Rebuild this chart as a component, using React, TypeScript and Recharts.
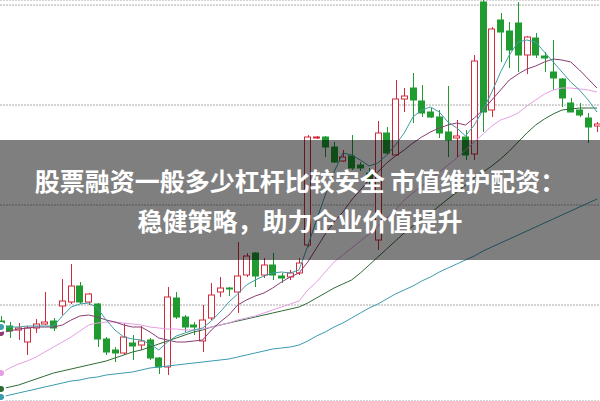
import React from 'react';
import { ComposedChart, Bar, Line, XAxis, YAxis, CartesianGrid } from 'recharts';

const opens = [12.84, 12.79, 12.75, 12.63, 12.77, 12.81, 12.84, 12.99, 13.03, 13.19, 13.03, 13.01, 12.66, 12.55, 12.52, 12.62, 12.60, 12.65, 12.47, 12.38, 13.07, 12.88, 12.80, 12.64, 12.87, 13.13, 13.17, 13.13, 13.30, 13.52, 13.30, 13.40, 13.29, 13.28, 13.32, 13.60, 14.67, 14.68, 14.58, 14.44, 14.49, 14.40, 14.32, 13.65, 14.72, 14.50, 15.06, 15.17, 15.04, 14.93, 14.88, 14.73, 14.67, 14.68, 14.51, 16.03, 14.95, 15.85, 15.74, 15.82, 15.50, 15.67, 15.49, 15.33, 15.26, 15.02, 14.95, 14.87, 14.79];
const closes = [12.79, 12.74, 12.77, 12.77, 12.81, 12.83, 12.77, 13.04, 13.19, 13.03, 13.11, 12.66, 12.53, 12.52, 12.68, 12.59, 12.64, 12.47, 12.38, 13.08, 12.88, 12.78, 12.78, 12.85, 13.10, 13.17, 13.16, 13.29, 13.49, 13.29, 13.40, 13.30, 13.27, 13.32, 13.42, 14.68, 14.68, 14.58, 14.43, 14.48, 14.37, 14.37, 14.24, 14.72, 14.52, 15.06, 15.09, 15.05, 14.92, 14.88, 14.72, 14.65, 14.69, 14.50, 15.44, 14.93, 15.76, 15.73, 15.55, 15.50, 15.68, 15.50, 15.47, 15.27, 15.07, 14.93, 14.90, 14.78, 14.81];
const highs = [12.89, 12.83, 12.82, 12.79, 12.86, 13.13, 12.87, 13.26, 13.41, 13.23, 13.12, 13.02, 12.68, 12.58, 12.82, 12.70, 12.79, 12.67, 12.48, 13.18, 13.13, 12.90, 12.83, 13.00, 13.22, 13.28, 13.18, 13.63, 13.52, 13.53, 13.47, 13.52, 13.32, 13.35, 13.47, 14.70, 14.69, 14.69, 14.63, 14.55, 14.70, 14.43, 14.37, 14.84, 14.78, 15.25, 15.17, 15.32, 15.20, 14.97, 14.95, 15.19, 14.85, 14.75, 15.50, 16.05, 15.78, 15.92, 15.83, 16.03, 15.69, 15.72, 15.53, 15.65, 15.27, 15.07, 15.02, 14.92, 14.83];
const lows = [12.74, 12.67, 12.65, 12.50, 12.72, 12.80, 12.74, 12.90, 13.01, 13.01, 13.00, 12.58, 12.50, 12.43, 12.50, 12.45, 12.55, 12.45, 12.31, 12.30, 12.86, 12.73, 12.70, 12.53, 12.85, 13.08, 13.09, 12.92, 13.28, 13.18, 13.27, 13.25, 13.22, 13.25, 13.30, 13.58, 14.66, 14.48, 14.42, 14.43, 14.35, 14.34, 14.20, 13.55, 14.50, 14.49, 14.93, 14.82, 14.88, 14.87, 14.67, 14.48, 14.48, 14.45, 14.45, 14.73, 14.88, 15.43, 15.37, 15.33, 15.31, 15.47, 15.33, 15.15, 14.98, 14.93, 14.88, 14.62, 14.73];

const ma5 = [12.78, 12.78, 12.78, 12.79, 12.79, 12.79, 12.79, 12.89, 12.98, 13.01, 13.02, 12.97, 12.85, 12.75, 12.68, 12.66, 12.65, 12.61, 12.55, 12.63, 12.69, 12.72, 12.75, 12.77, 12.84, 12.93, 13.03, 13.11, 13.20, 13.25, 13.29, 13.32, 13.33, 13.32, 13.35, 13.59, 13.85, 14.10, 14.33, 14.52, 14.50, 14.45, 14.39, 14.42, 14.50, 14.60, 14.72, 14.88, 14.95, 14.98, 14.93, 14.83, 14.77, 14.69, 14.80, 14.95, 15.13, 15.33, 15.50, 15.63, 15.65, 15.63, 15.53, 15.43, 15.33, 15.23, 15.15, 15.05, 14.93];
const ma10 = [12.72, 12.74, 12.76, 12.77, 12.78, 12.78, 12.78, 12.80, 12.85, 12.89, 12.90, 12.88, 12.85, 12.83, 12.80, 12.78, 12.78, 12.73, 12.67, 12.65, 12.63, 12.63, 12.64, 12.65, 12.75, 12.83, 12.90, 13.00, 13.05, 13.09, 13.12, 13.17, 13.23, 13.28, 13.32, 13.43, 13.57, 13.71, 13.83, 13.93, 14.05, 14.15, 14.25, 14.33, 14.42, 14.49, 14.55, 14.62, 14.68, 14.73, 14.77, 14.80, 14.82, 14.80, 14.87, 14.95, 15.05, 15.15, 15.25, 15.31, 15.36, 15.39, 15.43, 15.46, 15.45, 15.43, 15.35, 15.26, 15.17];
const ma20 = [12.32, 12.37, 12.41, 12.44, 12.48, 12.53, 12.58, 12.63, 12.68, 12.74, 12.80, 12.82, 12.83, 12.83, 12.82, 12.81, 12.80, 12.78, 12.77, 12.76, 12.76, 12.75, 12.75, 12.76, 12.78, 12.80, 12.82, 12.85, 12.87, 12.89, 12.92, 12.95, 12.98, 13.01, 13.04, 13.15, 13.23, 13.33, 13.43, 13.50, 13.57, 13.64, 13.71, 13.79, 13.87, 13.95, 14.05, 14.12, 14.19, 14.25, 14.33, 14.40, 14.47, 14.55, 14.63, 14.71, 14.79, 14.85, 14.88, 14.92, 14.99, 15.05, 15.11, 15.15, 15.17, 15.17, 15.16, 15.15, 15.13];
const ma30 = [12.16, 12.18, 12.20, 12.23, 12.26, 12.29, 12.32, 12.34, 12.36, 12.38, 12.40, 12.42, 12.44, 12.47, 12.50, 12.53, 12.55, 12.58, 12.61, 12.64, 12.67, 12.70, 12.73, 12.75, 12.78, 12.80, 12.82, 12.84, 12.86, 12.88, 12.90, 12.92, 12.94, 12.96, 12.98, 13.02, 13.07, 13.12, 13.17, 13.21, 13.25, 13.32, 13.40, 13.48, 13.56, 13.64, 13.72, 13.79, 13.86, 13.92, 13.99, 14.06, 14.13, 14.20, 14.27, 14.33, 14.39, 14.46, 14.54, 14.63, 14.72, 14.80, 14.86, 14.91, 14.95, 14.96, 14.97, 14.97, 14.97];
const ma60 = [12.08, 12.10, 12.12, 12.14, 12.16, 12.18, 12.20, 12.22, 12.24, 12.25, 12.27, 12.28, 12.30, 12.31, 12.32, 12.33, 12.35, 12.37, 12.38, 12.39, 12.40, 12.41, 12.42, 12.43, 12.44, 12.45, 12.46, 12.48, 12.50, 12.52, 12.54, 12.56, 12.57, 12.58, 12.60, 12.64, 12.69, 12.73, 12.78, 12.82, 12.87, 12.92, 12.97, 13.01, 13.06, 13.11, 13.15, 13.19, 13.24, 13.28, 13.33, 13.37, 13.41, 13.45, 13.49, 13.54, 13.58, 13.62, 13.66, 13.70, 13.74, 13.78, 13.82, 13.86, 13.90, 13.94, 13.98, 14.02, 14.06];

const gridTicks = [13, 14, 15, 16];
const titleLines = ['股票融资一般多少杠杆比较安全 市值维护配资：', '稳健策略，助力企业价值提升'];

const RED = '#d12a3c';
const GREEN = '#1f9b30';

const data = opens.map((o, i) => ({
  i,
  open: o,
  close: closes[i],
  high: highs[i],
  low: lows[i],
  ma5: ma5[i],
  ma10: ma10[i],
  ma20: ma20[i],
  ma30: ma30[i],
  ma60: ma60[i],
}));

const Candle = (props: any) => {
  const { x, y, width, height, payload } = props;
  if (!payload || x == null || y == null) return null;
  const { open, close, high, low } = payload;
  const top = Math.min(y, y + height);
  const h = Math.abs(height);
  const span = high - low || 0.01;
  const ratio = h / span;
  const yOf = (v: number) => top + (high - v) * ratio;
  const up = close >= open;
  const color = up ? RED : GREEN;
  const bTop = yOf(Math.max(open, close));
  const bBot = yOf(Math.min(open, close));
  const cx = Math.round(x + width / 2) + 0.5;
  const bx = Math.round(x) + 0.5;
  const bw = Math.max(Math.round(width) - 1, 1);
  return (
    <g>
      <line x1={cx} x2={cx} y1={top} y2={top + h} stroke={color} strokeWidth={1} />
      <rect
        x={bx}
        y={bTop}
        width={bw}
        height={Math.max(bBot - bTop, 1)}
        fill={up ? '#ffffff' : color}
        stroke={color}
        strokeWidth={1}
      />
    </g>
  );
};

export default function App() {
  return (
    <div style={{ position: 'absolute', left: 0, top: 0, width: 600, height: 401, overflow: 'hidden', background: '#fff' }}>
      <ComposedChart width={600} height={401} data={data} margin={{ top: 0, right: 0, bottom: 0, left: 0 }}>
        <CartesianGrid vertical={false} stroke="#a8a8a8" strokeDasharray="2 1" />
        <XAxis dataKey="i" type="number" domain={[-0.114, 68.342]} allowDataOverflow hide />
        <YAxis type="number" domain={[12.04, 16.05]} ticks={gridTicks} allowDataOverflow hide />
        <Bar dataKey={(d: any) => [d.low, d.high]} barSize={7} shape={<Candle />} isAnimationActive={false} />
        <Line dataKey="ma60" type="linear" stroke="#3a9bb0" strokeWidth={1} dot={false} isAnimationActive={false} />
        <Line dataKey="ma30" type="linear" stroke="#2f6b35" strokeWidth={1} dot={false} isAnimationActive={false} />
        <Line dataKey="ma20" type="linear" stroke="#e59ee3" strokeWidth={1} dot={false} isAnimationActive={false} />
        <Line dataKey="ma10" type="linear" stroke="#8a3c74" strokeWidth={1} dot={false} isAnimationActive={false} />
        <Line dataKey="ma5" type="linear" stroke="#3f9ea6" strokeWidth={1} dot={false} isAnimationActive={false} />
      </ComposedChart>
      <div
        style={{
          position: 'absolute',
          left: 0,
          top: 140,
          width: 600,
          height: 120,
          background: 'rgba(0,0,0,0.5)',
          display: 'flex',
          flexDirection: 'column',
          justifyContent: 'center',
          alignItems: 'center',
          color: '#ffffff',
          fontFamily: '"Noto Sans CJK SC", "Noto Sans", sans-serif',
          fontWeight: 700,
          fontSize: 25,
          lineHeight: '40px',
          textAlign: 'center',
        }}
      >
        {titleLines.map((t) => (
          <div key={t} style={{ whiteSpace: 'pre' }}>{t}</div>
        ))}
      </div>
    </div>
  );
}
